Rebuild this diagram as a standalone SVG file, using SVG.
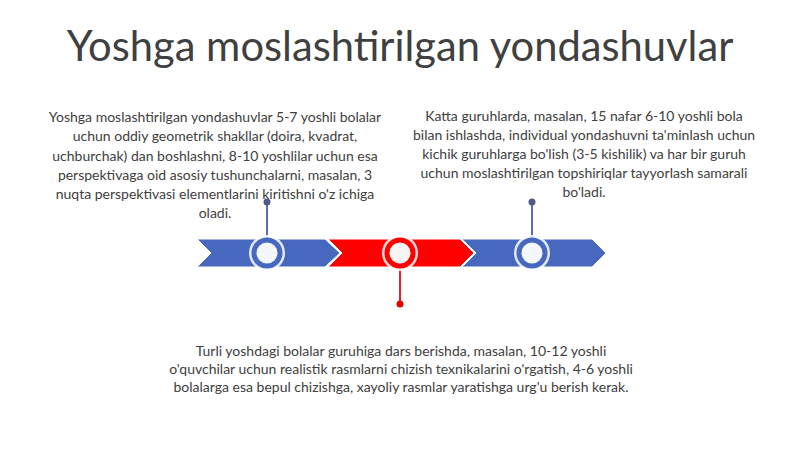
<svg xmlns="http://www.w3.org/2000/svg" width="800" height="449" viewBox="0 0 800 449">
<style>
.t{font-family:Lato,"Open Sans",sans-serif;fill:#404040;text-anchor:middle;white-space:pre}
.b{font-size:14px}
.blue{fill:#4668BE;stroke:#fff;stroke-width:1}
.red{fill:#FF0000;stroke:#fff;stroke-width:1}
</style>
<rect width="800" height="449" fill="#fff"/>
<text class="t" x="400" y="61" font-size="41.7">Yoshga moslashtirilgan yondashuvlar</text>
<g id="connectors">
<line x1="267" y1="202" x2="267" y2="238" stroke="#5F6DAE" stroke-width="2"/>
<circle cx="267" cy="202" r="3.5" fill="#4F5A8A"/>
<line x1="532" y1="202" x2="532" y2="238" stroke="#5F6DAE" stroke-width="2"/>
<circle cx="532" cy="202" r="3.5" fill="#4F5A8A"/>
<line x1="400" y1="268" x2="400" y2="304" stroke="#E8202A" stroke-width="2"/>
<circle cx="400" cy="304" r="3.5" fill="#E00000"/>
</g>
<g id="arrow1"><polygon class="blue" points="197,239 325,239 340,253 325,267 197,267 211,253"/></g>
<g id="arrow2"><polygon class="red" points="328,239 460,239 474,253 460,267 328,267 342,253"/></g>
<g id="arrow3"><polygon class="blue" points="462,239 592,239 606,253 592,267 462,267 476,253"/></g>
<g id="node1">
<circle cx="267" cy="253" r="18" fill="#fff" opacity="0.85"/>
<circle cx="267" cy="253" r="13" fill="#F4F8FC" stroke="#4668BE" stroke-width="5"/>
</g>
<g id="node2">
<circle cx="400" cy="253" r="18" fill="#fff" opacity="0.85"/>
<circle cx="400" cy="253" r="13" fill="#F8F4F4" stroke="#FF0000" stroke-width="5"/>
</g>
<g id="node3">
<circle cx="532" cy="253" r="18" fill="#fff" opacity="0.85"/>
<circle cx="532" cy="253" r="13" fill="#F4F8FC" stroke="#4668BE" stroke-width="5"/>
</g>
<g id="text1" class="t b" xml:space="preserve">
<text x="215" y="122">Yoshga moslashtirilgan yondashuvlar 5-7 yoshli bolalar</text>
<text x="215" y="141">uchun oddiy geometrik shakllar (doira, kvadrat,</text>
<text x="215" y="161">uchburchak) dan boshlashni, 8-10 yoshlilar uchun esa</text>
<text x="215" y="180">perspektivaga oid asosiy tushunchalarni, masalan,  3</text>
<text x="215" y="199">nuqta perspektivasi elementlarini kiritishni o'z ichiga</text>
<text x="215" y="218">oladi.</text>
</g>
<g id="text2" class="t b" xml:space="preserve">
<text x="584" y="121">Katta guruhlarda,  masalan, 15 nafar 6-10 yoshli bola</text>
<text x="584" y="140">bilan ishlashda, individual yondashuvni ta'minlash uchun</text>
<text x="584" y="159">kichik guruhlarga bo'lish (3-5 kishilik) va har bir guruh</text>
<text x="584" y="178">uchun moslashtirilgan topshiriqlar tayyorlash samarali</text>
<text x="584" y="197">bo'ladi.</text>
</g>
<g id="text3" class="t b">
<text x="401" y="356">Turli yoshdagi bolalar guruhiga dars berishda, masalan, 10-12 yoshli</text>
<text x="401" y="374">o'quvchilar uchun realistik rasmlarni chizish texnikalarini o'rgatish, 4-6 yoshli</text>
<text x="401" y="392">bolalarga esa bepul chizishga, xayoliy rasmlar yaratishga urg'u berish kerak.</text>
</g>
</svg>
